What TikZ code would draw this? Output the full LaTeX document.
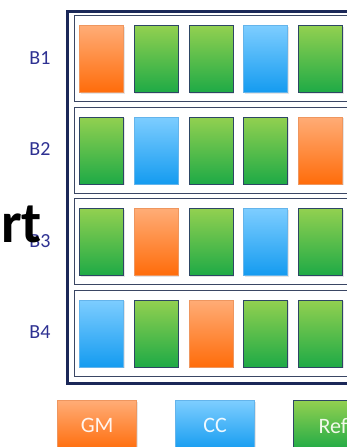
\documentclass[tikz,border=0pt]{standalone}
\usepackage{fontspec}
\setmainfont{Carlito}
\usetikzlibrary{shadows}
\definecolor{navyframe}{RGB}{27,40,88}
\definecolor{rowline}{RGB}{58,70,100}
\definecolor{labelblue}{RGB}{46,49,146}
\definecolor{gmtop}{RGB}{255,172,118}
\definecolor{gmbot}{RGB}{255,108,10}
\definecolor{gmedge}{RGB}{238,150,95}
\definecolor{cctop}{RGB}{125,205,255}
\definecolor{ccbot}{RGB}{20,155,240}
\definecolor{ccedge}{RGB}{100,180,235}
\definecolor{reftop}{RGB}{146,208,80}
\definecolor{refbot}{RGB}{30,170,70}
\definecolor{refedge}{RGB}{45,70,100}

\begin{document}
\begin{tikzpicture}[x=1pt, y=-1pt,
  cell/.style={rectangle, draw=#1edge, top color=#1top, bottom color=#1bot, line width=1.2pt,
    minimum width=44pt, minimum height=67pt, inner sep=0pt, anchor=north west,
    drop shadow={opacity=0.2, shadow xshift=1pt, shadow yshift=-1pt}},
  legend/.style={cell=#1, minimum width=79pt, minimum height=50pt, text=white!88!#1top,
    font=\fontsize{22}{24}\selectfont},
  rowbox/.style={rectangle, draw=rowline, line width=1.2pt, fill=white, minimum width=300pt,
    minimum height=86pt, inner sep=0pt, anchor=north west},
  rowlabel/.style={text=labelblue, font=\fontsize{20}{22}\selectfont, inner sep=0pt}]
  \useasboundingbox (0,0) rectangle (346,447);
  \node[rectangle, draw=navyframe, line width=3pt, minimum width=340pt, minimum height=372pt,
    inner sep=0pt, anchor=north west] (frame) at (65.5,10) {};
  % rows of the four batches
  \foreach \r in {1,...,4} {
    \node[rowbox] (row\r) at (74,{15+91.5*(\r-1)}) {};
    \node[rowlabel] (lab\r) at (40,{58+91.5*(\r-1)}) {B\r};
  }
  \foreach \kinds [count=\r] in {{gm,ref,ref,cc,ref},{ref,cc,ref,ref,gm},{ref,gm,ref,cc,ref},{cc,ref,gm,ref,ref}}
    \foreach \k [count=\c] in \kinds
      \node[cell=\k] (c\r\c) at ({79+54.75*(\c-1)},{25+91.5*(\r-1)}) {};
  % legend
  \node[legend=gm] (gm) at (57,400) {GM};
  \node[legend=cc] (cc) at (175,400) {CC};
  \node[legend=ref] (ref) at (293,400) {Ref};
  \node[anchor=base east, inner sep=0pt, font=\fontsize{58}{60}\selectfont\bfseries] (title) at (42,242) {ort};
\end{tikzpicture}
\end{document}
